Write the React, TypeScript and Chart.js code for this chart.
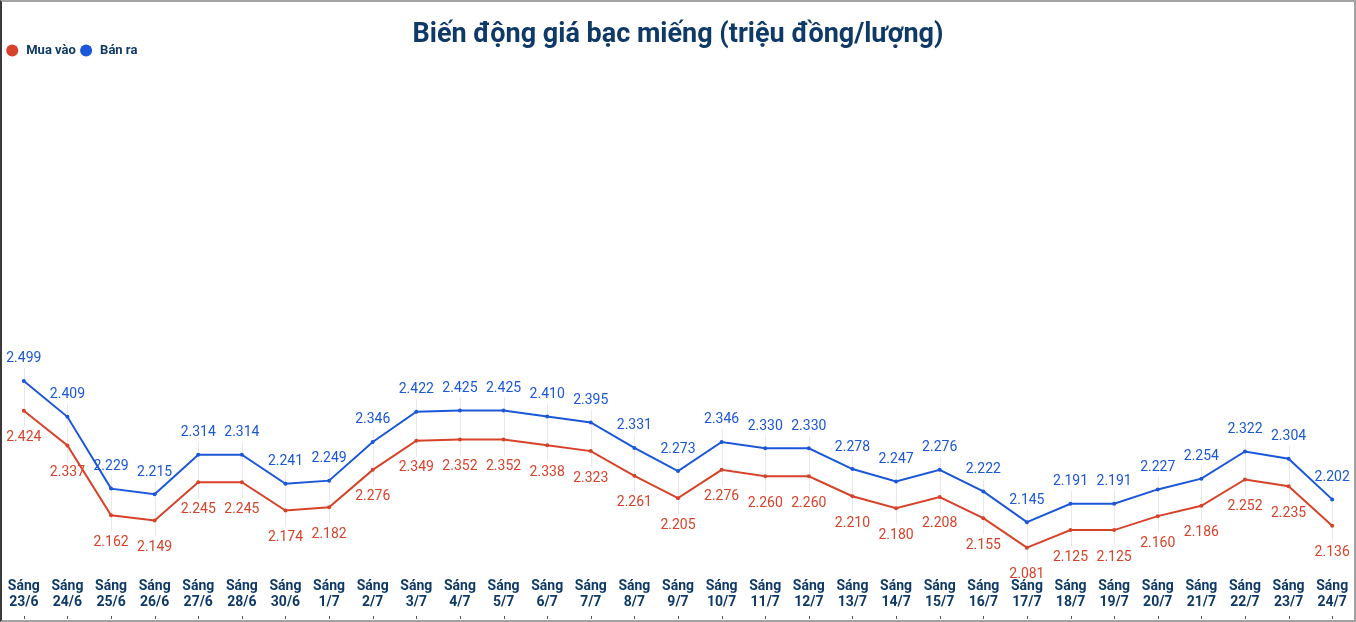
import React, { useEffect, useRef } from "react";
import { Chart, registerables } from "chart.js";

Chart.register(...registerables);

const dates = ["23/6","24/6","25/6","26/6","27/6","28/6","30/6","1/7","2/7","3/7","4/7","5/7","6/7","7/7","8/7","9/7","10/7","11/7","12/7","13/7","14/7","15/7","16/7","17/7","18/7","19/7","20/7","21/7","22/7","23/7","24/7"];
const categories = dates.map((d) => ["Sáng", d]);
const muaVao = [2.424,2.337,2.162,2.149,2.245,2.245,2.174,2.182,2.276,2.349,2.352,2.352,2.338,2.323,2.261,2.205,2.276,2.260,2.260,2.210,2.180,2.208,2.155,2.081,2.125,2.125,2.160,2.186,2.252,2.235,2.136];
const banRa = [2.499,2.409,2.229,2.215,2.314,2.314,2.241,2.249,2.346,2.422,2.425,2.425,2.410,2.395,2.331,2.273,2.346,2.330,2.330,2.278,2.247,2.276,2.222,2.145,2.191,2.191,2.227,2.254,2.322,2.304,2.202];

const RED = "#d6432a";
const BLUE = "#1c57d8";
const NAVY = "#0f3a68";

const labelPlugin = {
  id: "valueLabels",
  beforeDatasetsDraw(chart: any) {
    const ctx = chart.ctx;
    const blue = chart.getDatasetMeta(1).data;
    const red = chart.getDatasetMeta(0).data;
    ctx.save();
    ctx.strokeStyle = "#e9e9e9";
    ctx.lineWidth = 1;
    for (let i = 0; i < blue.length; i++) {
      const x = Math.round(blue[i].x) + 0.5;
      ctx.beginPath();
      ctx.moveTo(x, blue[i].y - 13);
      ctx.lineTo(x, red[i].y + 16);
      ctx.stroke();
    }
    ctx.restore();
  },
  afterDatasetsDraw(chart: any) {
    const ctx = chart.ctx;
    ctx.save();
    ctx.font = "14px Roboto";
    ctx.textAlign = "center";
    ctx.textBaseline = "middle";
    chart.data.datasets.forEach((ds: any, di: number) => {
      const meta = chart.getDatasetMeta(di);
      ctx.fillStyle = ds.borderColor;
      meta.data.forEach((pt: any, i: number) => {
        const v = ds.data[i] as number;
        const y = di === 1 ? pt.y - 22 : pt.y + 27;
        ctx.fillText(v.toFixed(3), pt.x, y);
      });
    });
    ctx.fillStyle = "#555";
    const meta = chart.getDatasetMeta(0);
    meta.data.forEach((pt: any) => {
      ctx.fillRect(Math.round(pt.x), chart.height - 4, 1, 3);
    });
    ctx.restore();
  },
};

export default function App() {
  const ref = useRef<HTMLCanvasElement | null>(null);
  useEffect(() => {
    if (!ref.current) return;
    const chart = new Chart(ref.current, {
      type: "line",
      data: {
        labels: categories,
        datasets: [
          {
            label: " Mua vào",
            data: muaVao,
            borderColor: RED,
            backgroundColor: RED,
            borderWidth: 2,
            pointRadius: 2,
            pointBackgroundColor: RED,
            pointBorderWidth: 0,
            tension: 0,
          },
          {
            label: " Bán ra",
            data: banRa,
            borderColor: BLUE,
            backgroundColor: BLUE,
            borderWidth: 2,
            pointRadius: 2,
            pointBackgroundColor: BLUE,
            pointBorderWidth: 0,
            tension: 0,
          },
        ],
      },
      options: {
        animation: false,
        responsive: true,
        maintainAspectRatio: false,
        layout: { autoPadding: false, padding: { left: 0, right: 0, top: 0, bottom: 5 } },
        plugins: {
          title: {
            display: true,
            text: "Biến động giá bạc miếng (triệu đồng/lượng)",
            color: NAVY,
            font: { family: "Roboto", size: 27, weight: "bold", lineHeight: 1 },
            padding: { top: 20, bottom: -11 },
          },
          legend: {
            position: "top",
            align: "start",
            labels: {
              usePointStyle: true,
              pointStyle: "circle",
              boxWidth: 8.5,
              boxHeight: 8.5,
              padding: 6,
              color: NAVY,
              font: { family: "Roboto", size: 13, weight: "bold" },
            },
          },
          tooltip: { enabled: false },
        },
        scales: {
          x: {
            offset: true,
            grid: { display: false },
            border: { display: false },
            ticks: {
              color: NAVY,
              font: { family: "Roboto", size: 14, weight: "bold", lineHeight: 1.15 },
              padding: 4,
              maxRotation: 0,
              autoSkip: false,
            },
          },
          y: {
            display: false,
            min: 2.033,
            max: 3.286,
          },
        },
      },
      plugins: [labelPlugin],
    });
    return () => chart.destroy();
  }, []);
  return (
    <div
      style={{
        position: "fixed",
        left: 0,
        top: 0,
        width: 1356,
        height: 622,
        boxSizing: "border-box",
        borderTop: "2px solid #a3a3a3",
        borderRight: "2px solid #a3a3a3",
        borderBottom: "2px solid #a3a3a3",
        borderLeft: "2px solid #3a3a3a",
        background: "#fff",
      }}
    >
      <div style={{ position: "relative", width: "100%", height: "100%" }}>
        <canvas ref={ref} />
      </div>
    </div>
  );
}
